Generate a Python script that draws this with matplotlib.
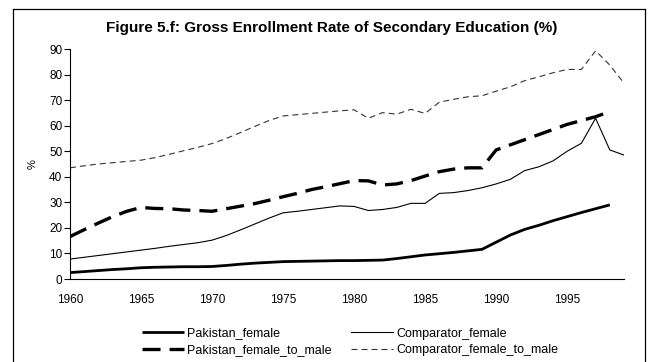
import matplotlib
matplotlib.use("Agg")
import matplotlib.pyplot as plt
from matplotlib.lines import Line2D

plt.rcParams['font.family'] = ['Liberation Sans', 'DejaVu Sans']
plt.rcParams['lines.scale_dashes'] = False

years = list(range(1960, 2000))

pakistan_female = [2.5, 2.9, 3.3, 3.7, 4.0, 4.4, 4.6, 4.7, 4.8, 4.8,
                   4.9, 5.3, 5.8, 6.2, 6.5, 6.8, 6.9, 7.0, 7.1, 7.2,
                   7.2, 7.3, 7.4, 8.0, 8.7, 9.4, 9.9, 10.4, 11.0, 11.6,
                   14.4, 17.2, 19.4, 21.0, 22.8, 24.4, 26.0, 27.5, 29.0]

comparator_female = [7.8, 8.5, 9.2, 9.9, 10.6, 11.3, 12.0, 12.8, 13.5, 14.2,
                     15.2, 17.0, 19.2, 21.5, 23.8, 25.9, 26.5, 27.2, 27.9, 28.6,
                     28.4, 26.8, 27.2, 28.0, 29.6, 29.6, 33.5, 33.8, 34.6, 35.7,
                     37.2, 39.0, 42.4, 43.9, 46.2, 50.0, 53.1, 62.9, 50.5, 48.5]

pakistan_female_to_male = [16.6, 19.3, 21.9, 24.4, 26.5, 28.0, 27.6, 27.5, 27.0, 26.8,
                           26.5, 27.5, 28.5, 29.5, 30.8, 32.2, 33.5, 35.0, 36.1, 37.3,
                           38.5, 38.4, 36.8, 37.2, 38.5, 40.3, 42.0, 43.0, 43.5, 43.5,
                           50.5, 52.5, 54.5, 56.5, 58.5, 60.5, 62.0, 63.5, 65.5]

comparator_female_to_male = [43.5, 44.3, 45.0, 45.5, 46.0, 46.5, 47.5, 48.8, 50.2, 51.5,
                             53.0, 55.0, 57.3, 59.7, 62.0, 63.8, 64.3, 64.8, 65.3, 65.8,
                             66.2, 62.9, 65.1, 64.5, 66.4, 64.8, 69.2, 70.3, 71.3, 71.7,
                             73.5, 75.2, 77.6, 79.1, 80.7, 82.0, 82.0, 89.3, 83.7, 76.6]

year_ticks = [1960, 1965, 1970, 1975, 1980, 1985, 1990, 1995]
y_ticks = list(range(0, 100, 10))

W, H = 652, 362
fig = plt.figure(figsize=(W / 100, H / 100), dpi=100)
ax = fig.add_axes([70 / W, (H - 279) / H, (624 - 70) / W, (279 - 49) / H])

ax.plot(years[:len(pakistan_female)], pakistan_female, color='black', lw=2.0,
        solid_capstyle='butt', label='Pakistan_female')
ax.plot(years[:len(pakistan_female_to_male)], pakistan_female_to_male, color='black',
        lw=2.4, dashes=(13, 6.5), dash_capstyle='butt', label='Pakistan_female_to_male')
ax.plot(years[:len(comparator_female)], comparator_female, color='black', lw=0.8,
        label='Comparator_female')
ax.plot(years[:len(comparator_female_to_male)], comparator_female_to_male, color='#333333',
        lw=0.8, dashes=(4.3, 2.9), label='Comparator_female_to_male')

ax.set_xlim(1960, 1999)
ax.set_ylim(0, 90)
ax.set_xticks(year_ticks)
ax.set_yticks(y_ticks)
ax.tick_params(axis='x', length=0, pad=11, labelsize=8.5)
ax.tick_params(axis='y', length=4, width=0.8, pad=1.5, labelsize=8.5, direction='out')
for s in ('top', 'right'):
    ax.spines[s].set_visible(False)
for s in ('left', 'bottom'):
    ax.spines[s].set_linewidth(0.8)
ax.set_ylabel('%', fontsize=8, rotation=90, labelpad=8)

fig.text(332 / W, 1 - 28 / H, 'Figure 5.f: Gross Enrollment Rate of Secondary Education (%)',
         ha='center', va='center', fontsize=11, fontweight='bold')

# outer frame around the whole figure
frame_kw = dict(color='black', lw=0.9, transform=fig.transFigure)
fig.add_artist(Line2D([12.5 / W, 12.5 / W], [0, 1 - 9 / H], **frame_kw))
fig.add_artist(Line2D([645 / W, 645 / W], [0, 1 - 9 / H], **frame_kw))
fig.add_artist(Line2D([12.5 / W, 645 / W], [1 - 9 / H, 1 - 9 / H], **frame_kw))

handles, labels = ax.get_legend_handles_labels()
fig.legend(handles, labels,
           ncol=2, loc='center', bbox_to_anchor=(350 / W, 1 - 342 / H),
           frameon=False, fontsize=9, handlelength=3.4, handletextpad=0.25,
           columnspacing=1.5, labelspacing=0.4, borderpad=0)

fig.savefig('out.png', dpi=100)
